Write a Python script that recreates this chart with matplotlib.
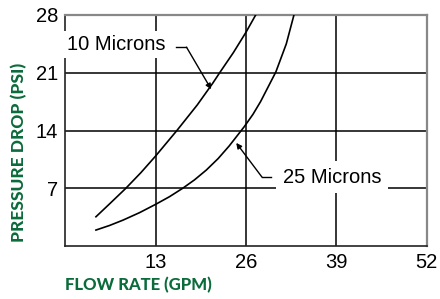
import numpy as np
import matplotlib
matplotlib.use("Agg")
import matplotlib.pyplot as plt

# valores
caudal_10 = [4.43, 6.5, 8.73, 10.9, 13.0, 16.07, 19.0, 21.2, 22.3, 24.2, 26.0, 27.4]
presion_10 = [3.55, 5.2, 7.0, 8.9, 10.9, 14.0, 17.1, 19.7, 21.1, 23.45, 25.9, 28.0]

caudal_25 = [4.43, 6.4, 8.34, 10.7, 13.0, 15.0, 16.9, 18.6, 20.3, 22.0, 23.6, 25.75, 27.0, 28.1, 30.3, 31.8, 32.9]
presion_25 = [1.94, 2.5, 3.15, 4.05, 5.05, 5.98, 7.0, 8.02, 9.21, 10.6, 12.14, 14.46, 15.95, 17.5, 21.1, 24.5, 28.0]

ticks_x = [13, 26, 39, 52]
ticks_y = [7, 14, 21, 28]

verde = "#0b6b3b"
fuente = "Liberation Sans"

fig = plt.figure(figsize=(4.4, 2.99), dpi=100)
ax = fig.add_axes([0.148, 0.177, 0.822, 0.773])

ax.plot(caudal_10, presion_10, color="black", lw=1.2, zorder=3)
ax.plot(caudal_25, presion_25, color="black", lw=1.2, zorder=3)

ax.set_xlim(0, 52)
ax.set_ylim(0, 28)
ax.set_xticks(ticks_x)
ax.set_yticks(ticks_y)
ax.set_xticklabels([str(t) for t in ticks_x], fontsize=14.5, family=fuente)
ax.set_yticklabels([str(t) for t in ticks_y], fontsize=14.5, family=fuente)
ax.tick_params(length=0, pad=5)
ax.grid(True, color="black", lw=1.1)
ax.set_axisbelow(True)

for lado in ["top", "right"]:
    ax.spines[lado].set_color("#888888")
    ax.spines[lado].set_linewidth(1.6)
for lado in ["left", "bottom"]:
    ax.spines[lado].set_color("#222222")
    ax.spines[lado].set_linewidth(1.2)

# etiquetas de las curvas
ax.text(0.2, 24.4, "10 Microns", fontsize=14.5, family=fuente, va="center", ha="left",
        bbox=dict(facecolor="white", edgecolor="none", pad=3), zorder=4)
ax.plot([16.0, 17.45], [24.1, 24.1], color="black", lw=1, zorder=4)
ax.annotate("", xy=(21.0, 19.0), xytext=(17.45, 24.1),
            arrowprops=dict(arrowstyle="-|>", color="black", lw=1, mutation_scale=8, shrinkA=0, shrinkB=0), zorder=4)

ax.text(31.3, 8.36, "25 Microns", fontsize=14.5, family=fuente, va="center", ha="left",
        bbox=dict(facecolor="white", edgecolor="none", pad=5), zorder=4)
ax.plot([28.3, 29.6], [8.36, 8.36], color="black", lw=1, zorder=4)
ax.annotate("", xy=(24.6, 12.5), xytext=(28.3, 8.36),
            arrowprops=dict(arrowstyle="-|>", color="black", lw=1, mutation_scale=8, shrinkA=0, shrinkB=0), zorder=4)

ax.set_xlabel("FLOW RATE (GPM)", fontsize=12, fontweight="black", color=verde, family="Lato")
ax.xaxis.set_label_coords(0.0, -0.135)
ax.xaxis.label.set_horizontalalignment("left")
ax.set_ylabel("PRESSURE DROP (PSI)", fontsize=12.5, fontweight="black", color=verde, family="Lato")
ax.yaxis.set_label_coords(-0.105, 0.405)

fig.savefig("out.png", dpi=100)
